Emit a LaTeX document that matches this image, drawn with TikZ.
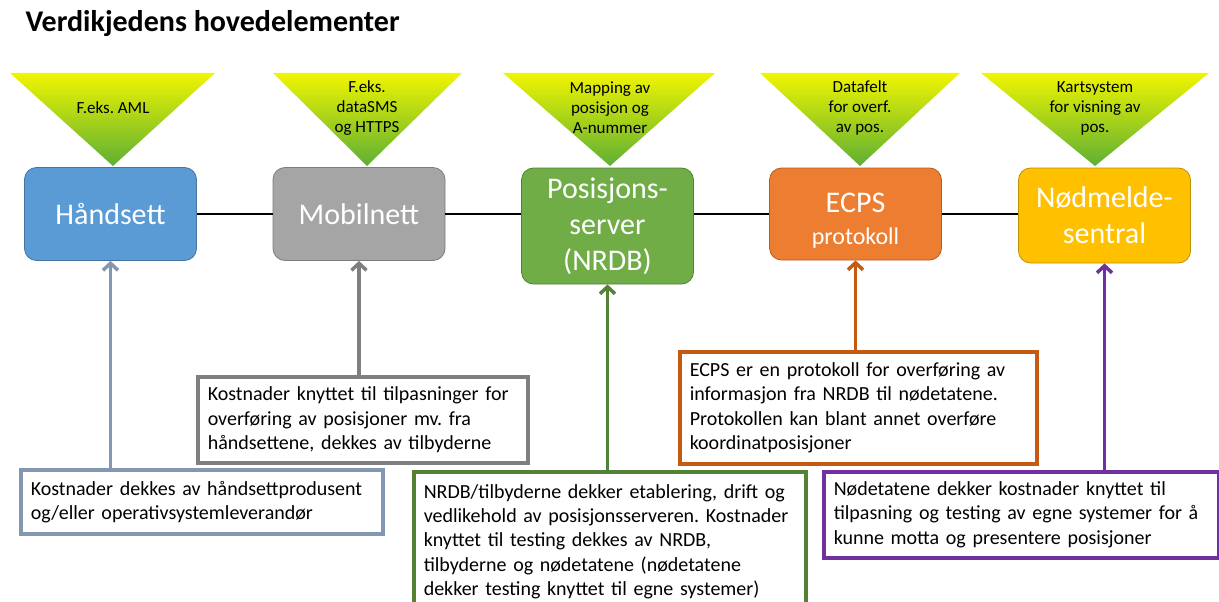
\documentclass[tikz,border=0pt]{standalone}
\usepackage{fontspec}
\setmainfont{Carlito}
\frenchspacing
\usetikzlibrary{arrows.meta}

\definecolor{hblue}{HTML}{5B9BD5}
\definecolor{mgray}{HTML}{A5A5A5}
\definecolor{pgreen}{HTML}{70AD47}
\definecolor{eorange}{HTML}{ED7D31}
\definecolor{ngold}{HTML}{FFC000}
\definecolor{cslate}{HTML}{8497B0}
\definecolor{cgray}{HTML}{7F7F7F}
\definecolor{cgreen}{HTML}{548235}
\definecolor{corange}{HTML}{C55A11}
\definecolor{cpurple}{HTML}{7030A0}
\definecolor{tritop}{HTML}{F0F500}
\definecolor{tribot}{HTML}{5EAF34}

\begin{document}
\begin{tikzpicture}[x=1pt,y=-1pt,
    element/.style={rounded corners=12pt, fill=#1, draw=#1!75!black, line width=0.8pt,
        text=white, align=center, minimum width=172pt,
        font=\fontsize{30}{36}\selectfont},
    costbox/.style={draw=#1, line width=3.5pt, fill=white, anchor=north west,
        align=left, inner xsep=10pt, font=\fontsize{20}{24.2}\selectfont},
    costline/.style={draw=#1, line width=3.5pt, -{Straight Barb[length=7pt,width=15pt]}},
    tritext/.style={align=center, font=\fontsize{17}{20}\selectfont}
]
\useasboundingbox (0,0) rectangle (1219,602);

\node[anchor=base west, font=\fontsize{30}{34}\selectfont\bfseries] (title) at (22,32) {Verdikjedens hovedelementer};

% triangles
\foreach \l/\r/\a/\name/\txt in {10/215/113/tA/{F.eks. AML},
        273/462/367/tB/{F.eks.\\dataSMS\\og HTTPS},
        503/715/610/tC/{Mapping av\\posisjon og\\A-nummer},
        760/960/860/tD/{Datafelt\\for overf.\\av pos.},
        981/1209/1095/tE/{Kartsystem\\for visning av\\pos.}}{
    \shade[top color=tritop, bottom color=tribot] (\l,73) -- (\r,73) -- (\a,166) -- cycle;
    \node[tritext] (\name) at (\a,108) {\txt};
}

% elements
\node[element=hblue, minimum height=93pt] (H) at (110.5,214) {Håndsett};
\node[element=mgray, minimum height=93pt] (M) at (359,214) {Mobilnett};
\node[element=pgreen, minimum height=116pt] (P) at (607.5,226) {Posisjons-\\server\\(NRDB)};
\node[element=eorange, minimum height=92pt] (E) at (855.5,214) {};
\node[element=eorange, draw=none, fill=none] (Etext) at (855.5,221) {ECPS\\[-4pt]{\fontsize{24}{28}\selectfont protokoll}};
\node[element=ngold, minimum height=95pt] (N) at (1104.5,215.5) {Nødmelde-\\sentral};

\draw[line width=2.5pt] (H.east) -- (M.west) (M.east) -- (P.west |- M.east)
    (P.east |- M.east) -- (E.west) (E.east) -- (N.west |- E.east);

% cost boxes
\node[costbox=cslate, text width=342pt, minimum height=64pt] (costA) at (19,468)
    {Kostnader dekkes av håndsettprodusent\\og/eller operativsystemleverandør};
\node[costbox=cgray, text width=310pt, minimum height=86pt] (costB) at (196,375)
    {Kostnader knyttet til tilpasninger for\\overføring av posisjoner mv. fra\\håndsettene, dekkes av tilbyderne};
\node[costbox=cgreen, text width=372pt, minimum height=140pt] (costC) at (412,470)
    {NRDB/tilbyderne dekker etablering, drift og\\vedlikehold av posisjonsserveren. Kostnader\\knyttet til testing dekkes av NRDB,\\tilbyderne og nødetatene (nødetatene\\dekker testing knyttet til egne systemer)};
\node[costbox=corange, text width=337pt, minimum height=112pt] (costD) at (678,350)
    {ECPS er en protokoll for overføring av\\informasjon fra NRDB til nødetatene.\\Protokollen kan blant annet overføre\\koordinatposisjoner};
\node[costbox=cpurple, text width=375pt, minimum height=86pt] (costE) at (822,470)
    {Nødetatene dekker kostnader knyttet til\\tilpasning og testing av egne systemer for å\\kunne motta og presentere posisjoner};

\draw[costline=cslate] (H.south |- costA.north) -- (H.south);
\draw[costline=cgray] (M.south |- costB.north) -- (M.south);
\draw[costline=cgreen] (P.south |- costC.north) -- (P.south);
\draw[costline=corange] (E.south |- costD.north) -- (E.south);
\draw[costline=cpurple] (N.south |- costE.north) -- (N.south);
\end{tikzpicture}
\end{document}
